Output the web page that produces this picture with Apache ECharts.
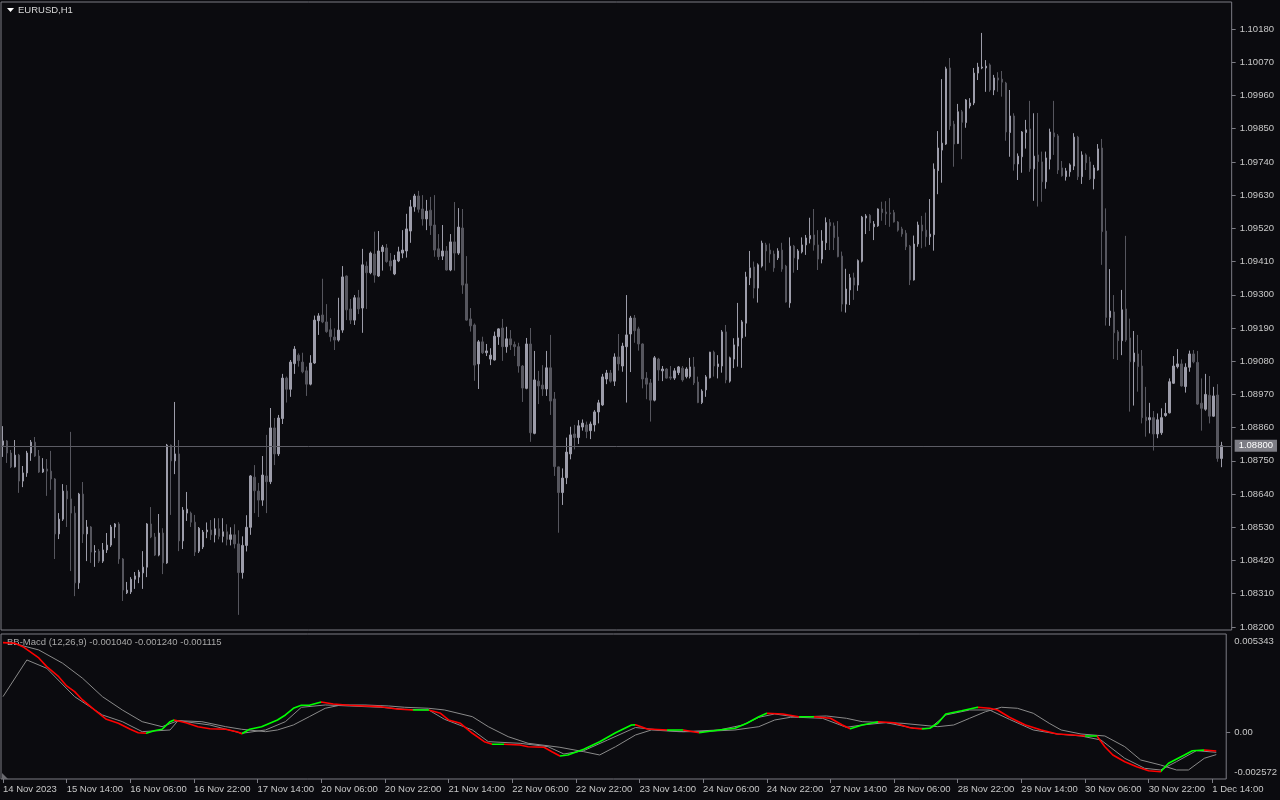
<!DOCTYPE html>
<html><head><meta charset="utf-8">
<script src="https://cdn.jsdelivr.net/npm/echarts@6/dist/echarts.min.js"></script>
<style>html,body{margin:0;padding:0;background:#0b0b0f;}#c{width:1280px;height:800px;}</style>
</head><body><div id="c"></div>
<script>
// ---------- DATA ----------
const symbolTitle = 'EURUSD,H1';
const indicatorTitle = 'BB-Macd (12,26,9) -0.001040 -0.001240 -0.001115';
const timeLabels = ['14 Nov 2023','15 Nov 14:00','16 Nov 06:00','16 Nov 22:00','17 Nov 14:00','20 Nov 06:00','20 Nov 22:00','21 Nov 14:00','22 Nov 06:00','22 Nov 22:00','23 Nov 14:00','24 Nov 06:00','24 Nov 22:00','27 Nov 14:00','28 Nov 06:00','28 Nov 22:00','29 Nov 14:00','30 Nov 06:00','30 Nov 22:00','1 Dec 14:00'];
const LABEL_STEP = 16;
const priceTicks = [1.10180,1.10070,1.09960,1.09850,1.09740,1.09630,1.09520,1.09410,1.09300,1.09190,1.09080,1.08970,1.08860,1.08750,1.08640,1.08530,1.08420,1.08310,1.08200];
const bidPrice = 1.08800;
const macdTicks = [0.005343, 0, -0.002572];

const opens = [
1.08802,1.08816,1.08776,1.08730,1.08769,1.08683,1.08710,1.08776,1.08812,1.08766,
1.08713,1.08723,1.08716,1.08690,1.08508,1.08557,1.08650,1.08624,1.08577,1.08346,
1.08640,1.08508,1.08531,1.08448,1.08451,1.08418,1.08455,1.08471,1.08531,1.08541,
1.08425,1.08313,1.08316,1.08358,1.08365,1.08379,1.08398,1.08541,1.08498,1.08438,
1.08511,1.08412,1.08802,1.08750,1.08773,1.08485,1.08577,1.08577,1.08547,1.08451,
1.08465,1.08515,1.08521,1.08505,1.08525,1.08500,1.08515,1.08490,1.08505,1.08475,
1.08380,1.08470,1.08530,1.08696,1.08650,1.08620,1.08700,1.08681,1.08859,1.08773,
1.08890,1.09024,1.08987,1.09072,1.09100,1.09077,1.09048,1.09004,1.09074,1.09214,
1.09233,1.09210,1.09184,1.09160,1.09150,1.09183,1.09362,1.09253,1.09216,1.09290,
1.09256,1.09395,1.09373,1.09435,1.09362,1.09443,1.09455,1.09412,1.09369,1.09412,
1.09438,1.09445,1.09511,1.09591,1.09627,1.09584,1.09551,1.09580,1.09531,1.09452,
1.09428,1.09445,1.09382,1.09475,1.09438,1.09521,1.09336,1.09220,1.09200,1.09071,
1.09144,1.09108,1.09087,1.09084,1.09161,1.09190,1.09128,1.09154,1.09135,1.09128,
1.09064,1.08990,1.09137,1.08841,1.09014,1.09001,1.08988,1.09058,1.08955,1.08730,
1.08645,1.08694,1.08773,1.08839,1.08827,1.08862,1.08869,1.08850,1.08869,1.08912,
1.08935,1.09021,1.09041,1.09014,1.09094,1.09064,1.09128,1.09170,1.09223,1.09187,
1.09137,1.09024,1.09008,1.08951,1.09087,1.09048,1.09054,1.09028,1.09024,1.09042,
1.09057,1.09029,1.09029,1.09061,1.09011,1.08943,1.08985,1.09025,1.09110,1.09062,
1.09064,1.09177,1.09014,1.09087,1.09130,1.09157,1.09206,1.09356,1.09392,1.09322,
1.09395,1.09465,1.09448,1.09435,1.09422,1.09448,1.09395,1.09273,1.09461,1.09418,
1.09442,1.09465,1.09485,1.09498,1.09465,1.09418,1.09472,1.09539,1.09528,1.09491,
1.09428,1.09269,1.09316,1.09356,1.09332,1.09411,1.09554,1.09563,1.09525,1.09528,
1.09584,1.09574,1.09571,1.09572,1.09541,1.09518,1.09504,1.09461,1.09349,1.09468,
1.09531,1.09514,1.09492,1.09499,1.09711,1.09779,1.09799,1.10051,1.09865,1.09801,
1.09906,1.09870,1.09925,1.09935,1.10034,1.10051,1.10051,1.10061,1.09978,1.10018,
1.10014,1.10001,1.09837,1.09892,1.09733,1.09757,1.09837,1.09849,1.09717,1.09763,
1.09740,1.09674,1.09749,1.09836,1.09826,1.09720,1.09691,1.09707,1.09726,1.09822,
1.09691,1.09763,1.09740,1.09684,1.09713,1.09786,1.09511,1.09225,1.09243,1.09177,
1.09148,1.09253,1.09157,1.09078,1.09104,1.09064,1.08895,1.08886,1.08893,1.08839,
1.08843,1.08900,1.08909,1.09007,1.09062,1.09071,1.08996,1.09060,1.09104,1.09076,
1.08941,1.08921,1.08967,1.08898,1.08968,1.08758];
const highs = [
1.08865,1.08819,1.08786,1.08819,1.08773,1.08733,1.08783,1.08819,1.08829,1.08786,
1.08759,1.08756,1.08783,1.08693,1.08577,1.08673,1.08670,1.08846,1.08600,1.08644,
1.08680,1.08554,1.08534,1.08471,1.08458,1.08478,1.08511,1.08538,1.08544,1.08547,
1.08428,1.08349,1.08365,1.08382,1.08389,1.08451,1.08544,1.08597,1.08511,1.08574,
1.08527,1.08806,1.08804,1.08945,1.08819,1.08597,1.08647,1.08582,1.08571,1.08531,
1.08521,1.08546,1.08554,1.08560,1.08560,1.08560,1.08540,1.08530,1.08540,1.08520,
1.08500,1.08570,1.08703,1.08736,1.08677,1.08766,1.08836,1.08925,1.08892,1.08902,
1.09038,1.09029,1.09084,1.09130,1.09106,1.09108,1.09062,1.09100,1.09231,1.09239,
1.09353,1.09269,1.09223,1.09189,1.09290,1.09395,1.09364,1.09286,1.09299,1.09316,
1.09452,1.09410,1.09443,1.09509,1.09511,1.09465,1.09468,1.09438,1.09432,1.09459,
1.09514,1.09568,1.09614,1.09634,1.09644,1.09630,1.09614,1.09624,1.09630,1.09501,
1.09531,1.09461,1.09501,1.09607,1.09587,1.09584,1.09428,1.09256,1.09205,1.09150,
1.09161,1.09137,1.09123,1.09178,1.09189,1.09220,1.09194,1.09183,1.09145,1.09141,
1.09067,1.09157,1.09190,1.09114,1.09048,1.09067,1.09114,1.09167,1.08978,1.08731,
1.08725,1.08827,1.08863,1.08869,1.08885,1.08887,1.08880,1.08880,1.08918,1.08952,
1.09038,1.09051,1.09051,1.09106,1.09170,1.09141,1.09299,1.09230,1.09233,1.09194,
1.09139,1.09044,1.09021,1.09097,1.09091,1.09064,1.09057,1.09064,1.09057,1.09064,
1.09064,1.09060,1.09091,1.09094,1.09029,1.08987,1.09034,1.09111,1.09115,1.09100,
1.09183,1.09200,1.09095,1.09156,1.09273,1.09216,1.09376,1.09445,1.09410,1.09404,
1.09479,1.09472,1.09470,1.09446,1.09454,1.09472,1.09399,1.09490,1.09465,1.09451,
1.09490,1.09498,1.09555,1.09584,1.09514,1.09514,1.09556,1.09551,1.09539,1.09544,
1.09443,1.09386,1.09369,1.09373,1.09417,1.09561,1.09567,1.09567,1.09544,1.09586,
1.09608,1.09610,1.09620,1.09581,1.09544,1.09525,1.09514,1.09465,1.09496,1.09542,
1.09561,1.09572,1.09617,1.09735,1.09842,1.10014,1.10055,1.10084,1.09876,1.09932,
1.09912,1.09948,1.09951,1.10051,1.10068,1.10167,1.10077,1.10066,1.10028,1.10037,
1.10041,1.10005,1.09978,1.09901,1.09768,1.09842,1.09879,1.09942,1.09901,1.09902,
1.09774,1.09774,1.09850,1.09942,1.09832,1.09743,1.09720,1.09735,1.09835,1.09826,
1.09775,1.09768,1.09757,1.09730,1.09799,1.09816,1.09586,1.09385,1.09299,1.09183,
1.09316,1.09495,1.09221,1.09180,1.09167,1.09117,1.08995,1.08942,1.08915,1.08907,
1.08924,1.08942,1.09023,1.09097,1.09120,1.09086,1.09073,1.09115,1.09117,1.09114,
1.09023,1.09038,1.09031,1.08995,1.09004,1.08813];
const lows = [
1.08763,1.08743,1.08726,1.08728,1.08644,1.08663,1.08697,1.08750,1.08763,1.08710,
1.08710,1.08634,1.08654,1.08425,1.08491,1.08551,1.08531,1.08385,1.08302,1.08326,
1.08478,1.08418,1.08412,1.08399,1.08412,1.08412,1.08445,1.08465,1.08494,1.08409,
1.08286,1.08309,1.08309,1.08326,1.08345,1.08326,1.08365,1.08494,1.08435,1.08434,
1.08375,1.08409,1.08571,1.08706,1.08451,1.08458,1.08551,1.08531,1.08435,1.08445,
1.08458,1.08494,1.08488,1.08480,1.08490,1.08480,1.08470,1.08470,1.08460,1.08240,
1.08360,1.08450,1.08505,1.08577,1.08564,1.08601,1.08577,1.08673,1.08736,1.08766,
1.08872,1.08943,1.08962,1.09038,1.09062,1.09040,1.08965,1.09000,1.09071,1.09167,
1.09206,1.09174,1.09145,1.09117,1.09145,1.09174,1.09216,1.09203,1.09200,1.09236,
1.09174,1.09253,1.09368,1.09340,1.09359,1.09380,1.09406,1.09380,1.09365,1.09408,
1.09421,1.09423,1.09472,1.09575,1.09572,1.09529,1.09514,1.09498,1.09426,1.09415,
1.09415,1.09380,1.09378,1.09380,1.09432,1.09303,1.09214,1.09178,1.09015,1.08988,
1.09104,1.09097,1.09067,1.09082,1.09134,1.09081,1.09108,1.09117,1.09097,1.09042,
1.08945,1.08987,1.08813,1.08838,1.08938,1.08965,1.08965,1.08902,1.08700,1.08512,
1.08604,1.08673,1.08755,1.08788,1.08806,1.08850,1.08825,1.08822,1.08847,1.08874,
1.08932,1.09004,1.09009,1.08998,1.09049,1.09045,1.08943,1.09044,1.09141,1.09115,
1.08990,1.08954,1.08880,1.08947,1.09015,1.09014,1.09022,1.09018,1.09018,1.09034,
1.09012,1.09023,1.09023,1.09001,1.08941,1.08938,1.08962,1.09023,1.09029,1.09023,
1.09042,1.09007,1.09009,1.09057,1.09062,1.09058,1.09161,1.09332,1.09288,1.09274,
1.09390,1.09380,1.09406,1.09376,1.09415,1.09376,1.09274,1.09257,1.09373,1.09382,
1.09437,1.09432,1.09470,1.09446,1.09382,1.09404,1.09448,1.09448,1.09448,1.09424,
1.09244,1.09241,1.09266,1.09283,1.09313,1.09407,1.09501,1.09511,1.09481,1.09525,
1.09545,1.09531,1.09525,1.09539,1.09509,1.09492,1.09448,1.09332,1.09347,1.09459,
1.09454,1.09459,1.09465,1.09446,1.09633,1.09671,1.09796,1.09846,1.09724,1.09799,
1.09749,1.09853,1.09917,1.09928,1.10011,1.10047,1.09972,1.09972,1.09961,1.09972,
1.09956,1.09810,1.09757,1.09711,1.09680,1.09704,1.09784,1.09707,1.09611,1.09592,
1.09608,1.09651,1.09715,1.09763,1.09700,1.09691,1.09678,1.09691,1.09713,1.09680,
1.09667,1.09713,1.09680,1.09649,1.09711,1.09399,1.09198,1.09197,1.09087,1.09084,
1.09100,1.09144,1.08913,1.08933,1.08979,1.08874,1.08830,1.08841,1.08784,1.08825,
1.08836,1.08896,1.08907,1.09005,1.09056,1.08996,1.08976,1.09045,1.09073,1.08935,
1.08850,1.08916,1.08874,1.08896,1.08747,1.08729];
const closes = [
1.08816,1.08776,1.08730,1.08769,1.08683,1.08710,1.08776,1.08812,1.08766,1.08713,
1.08723,1.08716,1.08690,1.08508,1.08557,1.08650,1.08624,1.08577,1.08346,1.08640,
1.08508,1.08531,1.08448,1.08451,1.08418,1.08455,1.08471,1.08531,1.08541,1.08425,
1.08322,1.08322,1.08358,1.08369,1.08382,1.08398,1.08541,1.08498,1.08438,1.08511,
1.08412,1.08802,1.08750,1.08773,1.08485,1.08587,1.08590,1.08547,1.08448,1.08527,
1.08514,1.08521,1.08505,1.08525,1.08500,1.08515,1.08490,1.08505,1.08475,1.08380,
1.08470,1.08530,1.08700,1.08651,1.08620,1.08703,1.08681,1.08859,1.08773,1.08892,
1.09024,1.08987,1.09077,1.09120,1.09082,1.09045,1.09004,1.09074,1.09216,1.09230,
1.09210,1.09178,1.09161,1.09150,1.09183,1.09359,1.09250,1.09216,1.09290,1.09253,
1.09399,1.09373,1.09438,1.09365,1.09445,1.09458,1.09410,1.09395,1.09415,1.09442,
1.09448,1.09518,1.09591,1.09627,1.09583,1.09551,1.09577,1.09529,1.09448,1.09426,
1.09445,1.09382,1.09475,1.09438,1.09524,1.09332,1.09216,1.09197,1.09067,1.09144,
1.09108,1.09114,1.09100,1.09163,1.09187,1.09128,1.09154,1.09134,1.09128,1.09064,
1.08991,1.09137,1.08843,1.09018,1.08998,1.08988,1.09058,1.08948,1.08731,1.08645,
1.08693,1.08779,1.08836,1.08827,1.08866,1.08875,1.08847,1.08872,1.08912,1.08942,
1.09028,1.09041,1.09014,1.09094,1.09071,1.09130,1.09167,1.09223,1.09181,1.09137,
1.09021,1.09004,1.08951,1.09091,1.09051,1.09054,1.09024,1.09024,1.09048,1.09061,
1.09018,1.09054,1.09061,1.09008,1.08943,1.08981,1.09028,1.09110,1.09064,1.09071,
1.09177,1.09018,1.09091,1.09134,1.09157,1.09210,1.09359,1.09389,1.09322,1.09399,
1.09471,1.09445,1.09435,1.09389,1.09445,1.09385,1.09276,1.09461,1.09422,1.09445,
1.09465,1.09488,1.09496,1.09465,1.09418,1.09478,1.09539,1.09528,1.09489,1.09426,
1.09269,1.09319,1.09356,1.09332,1.09413,1.09557,1.09561,1.09538,1.09534,1.09584,
1.09572,1.09568,1.09568,1.09541,1.09514,1.09501,1.09459,1.09349,1.09468,1.09531,
1.09511,1.09492,1.09501,1.09716,1.09786,1.09802,1.10048,1.09859,1.09799,1.09906,
1.09871,1.09945,1.09935,1.10034,1.10054,1.10054,1.10057,1.09978,1.10018,1.10011,
1.10004,1.09839,1.09892,1.09733,1.09759,1.09839,1.09846,1.09717,1.09759,1.09741,
1.09674,1.09753,1.09839,1.09823,1.09713,1.09694,1.09710,1.09730,1.09822,1.09691,
1.09763,1.09737,1.09684,1.09720,1.09783,1.09509,1.09225,1.09246,1.09174,1.09148,
1.09250,1.09150,1.09078,1.09107,1.09062,1.08893,1.08883,1.08893,1.08839,1.08886,
1.08893,1.08907,1.09012,1.09064,1.09071,1.08998,1.09060,1.09104,1.09078,1.08938,
1.08924,1.08970,1.08898,1.08965,1.08758,1.08800];

// BB-Macd main line (read at sampled bars)
const macdIdx = [0,3,5,9,11,14,16,18,20,23,26,29,32,34,36,38,40,42,43,46,49,52,56,59,60,62,65,69,71,73,75,77,80,83,87,91,95,99,103,107,110,112,115,118,121,123,126,130,132,136,138,140,142,146,150,154,158,159,162,167,171,175,180,184,187,190,192,196,200,204,208,211,213,216,220,224,228,231,233,235,237,241,245,248,250,253,257,261,265,269,272,275,277,279,282,285,288,291,293,297,299,302,305];
const macdVal = [0.004870,0.004838,0.004652,0.004035,0.003560,0.003014,0.002506,0.002195,0.001742,0.001196,
0.000688,0.000470,0.000142,-0.000044,-0.000076,0.000066,0.000142,0.000557,0.000650,0.000502,
0.000284,0.000175,0.000142,-0.000005,-0.000098,0.000142,0.000284,0.000650,0.000923,0.001289,
0.001452,0.001452,0.001633,0.001523,0.001452,0.001414,0.001376,0.001250,0.001196,0.001196,
0.001016,0.000650,0.000470,-0.000076,-0.000535,-0.000677,-0.000677,-0.000715,-0.000808,-0.000841,
-0.001081,-0.001316,-0.001261,-0.000950,-0.000535,-0.000044,0.000377,0.000393,0.000158,0.000104,
0.000104,-0.000044,0.000104,0.000197,0.000470,0.000830,0.001016,0.000977,0.000830,0.000830,
0.000743,0.000377,0.000175,0.000377,0.000557,0.000502,0.000229,0.000158,0.000197,0.000470,
0.000977,0.001158,0.001343,0.001289,0.001196,0.000797,0.000377,0.000104,-0.000115,-0.000169,
-0.000224,-0.000224,-0.000808,-0.001261,-0.001627,-0.001900,-0.002118,-0.002173,-0.001714,-0.001261,
-0.001026,-0.000988,-0.001040];
// lagging gray line
const sigIdx = [2,9,15,20,25,30,35,40,44,50,56,60,66,69,73,77,81,85,91,97,101,107,111,118,122,127,132,140,146,150,154,159,163,170,175,184,190,194,198,207,212,216,226,235,239,243,247,251,255,259,263,266,271,277,282,286,291,295,298,302,305];
const sigVal = [0.004870,0.004472,0.003746,0.002927,0.001922,0.001196,0.000557,0.000284,0.000612,0.000557,
0.000284,0.000142,0.000011,0.000104,0.000377,0.000830,0.001289,0.001469,0.001469,0.001414,
0.001343,0.001289,0.001196,0.000830,0.000284,-0.000262,-0.000622,-0.000841,-0.001081,-0.001261,
-0.000808,-0.000169,0.000104,0.000011,0.000011,0.000104,0.000284,0.000650,0.000797,0.000868,
0.000743,0.000557,0.000470,0.000284,0.000377,0.000743,0.001103,0.001343,0.001289,0.001016,
0.000470,0.000104,-0.000115,-0.000224,-0.000808,-0.001534,-0.001807,-0.002080,-0.002080,-0.001441,
-0.001240];
// close gray line
const bandIdx = [0,6,11,18,25,30,35,42,44,52,60,66,71,75,81,87,95,101,107,111,118,122,130,137,141,146,152,159,165,171,180,186,190,194,200,206,212,216,222,229,233,237,243,248,253,259,265,271,276,282,287,291,295,300,305];
const bandVal = [0.001924,0.003926,0.003471,0.001924,0.000923,0.000559,0.000013,0.000104,0.000613,0.000377,
-0.000078,0.000104,0.000559,0.001341,0.001469,0.001414,0.001341,0.001232,0.001196,0.000686,
0.000104,-0.000533,-0.000624,-0.000806,-0.001207,-0.001025,-0.000442,0.000240,0.000104,0.000013,
0.000104,0.000377,0.000795,0.000977,0.000795,0.000741,0.000249,0.000377,0.000504,0.000195,
0.000195,0.000923,0.001196,0.001196,0.000686,0.000104,-0.000115,-0.000224,-0.000442,-0.001443,
-0.001989,-0.002080,-0.001625,-0.001025,-0.001115];

// ---------- CHART ----------
const SLOTS = 308;
const slots = Array.from({length: SLOTS}, (_, i) => i);
const FONT = 'Liberation Sans';
const TXT = '#c8c8c8';
const FRAME = '#7c7c84';
const candles = opens.map((o, i) => [o, closes[i], lows[i], highs[i]]);
const pts = (idx, val) => idx.map((x, k) => [x, val[k]]);
const pieces = [];
for (let k = 0; k < macdIdx.length - 1; k++) {
  pieces.push({gte: macdIdx[k], lt: macdIdx[k + 1] + (k === macdIdx.length - 2 ? 1 : 0),
    color: macdVal[k + 1] >= macdVal[k] ? '#00ff00' : '#ff0000'});
}
const showLabel = (idx) => idx % LABEL_STEP === 0 && idx / LABEL_STEP < timeLabels.length;

const chart = echarts.init(document.getElementById('c'), null, {renderer: 'canvas'});
chart.setOption({
  animation: false,
  backgroundColor: '#0b0b0f',
  textStyle: {fontFamily: FONT},
  grid: [
    {left: 1, top: 2, width: 1232, height: 628, show: true, borderColor: FRAME, borderWidth: 1, backgroundColor: 'transparent'},
    {left: 1, top: 634, width: 1232, height: 145, show: true, borderColor: FRAME, borderWidth: 1, backgroundColor: 'transparent'}
  ],
  xAxis: [
    {type: 'category', gridIndex: 0, data: slots, boundaryGap: true, axisLine: {show: false, onZero: false}, axisTick: {show: false}, axisLabel: {show: false}, splitLine: {show: false}},
    {type: 'category', gridIndex: 1, data: slots, boundaryGap: true, position: 'bottom', axisLine: {show: false, onZero: false},
      axisTick: {show: true, alignWithLabel: true, interval: showLabel, length: 4, lineStyle: {color: FRAME}},
      axisLabel: {show: true, interval: showLabel, align: 'left', margin: 5, color: TXT, fontSize: 9.5, fontFamily: FONT,
        formatter: (v, idx) => timeLabels[idx / LABEL_STEP] || ''},
      splitLine: {show: false}}
  ],
  yAxis: [
    {type: 'value', gridIndex: 0, position: 'right', min: 1.081899, max: 1.102694, scale: true,
      axisLine: {show: false}, splitLine: {show: false},
      axisTick: {show: true, length: 4, customValues: priceTicks, lineStyle: {color: FRAME}},
      axisLabel: {show: true, customValues: priceTicks, margin: 8, color: TXT, fontSize: 9.5, fontFamily: FONT, formatter: v => v.toFixed(5)}},
    {type: 'value', gridIndex: 0, position: 'right', min: 1.081899, max: 1.102694, scale: true,
      axisLine: {show: false}, splitLine: {show: false}, axisTick: {show: false},
      axisLabel: {show: true, customValues: [bidPrice], margin: 3, color: '#ffffff', backgroundColor: '#7d7d85', padding: [1, 4, 1, 4],
        fontSize: 9.5, fontFamily: FONT, formatter: v => v.toFixed(5)}},
    {type: 'value', gridIndex: 1, position: 'right', min: -0.002572, max: 0.005343,
      axisLine: {show: false}, splitLine: {show: false},
      axisTick: {show: true, length: 4, customValues: [0], lineStyle: {color: FRAME}},
      axisLabel: {show: true, customValues: macdTicks, margin: 8, color: TXT, fontSize: 9.5, fontFamily: FONT,
        formatter: v => v === 0 ? '{z|0.00}' : (v > 0 ? '{t|' + v.toFixed(6) + '}' : '{b|' + v.toFixed(6) + '}'),
        rich: {t: {padding: [14, 0, 0, 0], color: TXT, fontSize: 9.5}, b: {padding: [0, 0, 13, 0], color: TXT, fontSize: 9.5}, z: {color: TXT, fontSize: 9.5}}}}
  ],
  visualMap: [{type: 'piecewise', show: false, seriesIndex: 3, dimension: 0, pieces: pieces, outOfRange: {color: '#ff0000'}}],
  series: [
    {type: 'candlestick', xAxisIndex: 0, yAxisIndex: 0, data: candles, barWidth: 2,
      itemStyle: {color: '#9d9daa', color0: '#56565e', borderColor: '#9d9daa', borderColor0: '#56565e', borderWidth: 1},
      markLine: {symbol: 'none', silent: true, animation: false, precision: 5, label: {show: false},
        lineStyle: {color: '#5c5c64', width: 1, type: 'solid'}, data: [{yAxis: bidPrice}]}},
    {type: 'line', xAxisIndex: 1, yAxisIndex: 2, data: pts(sigIdx, sigVal), showSymbol: false,
      lineStyle: {color: '#8a8a8a', width: 1}, z: 2},
    {type: 'line', xAxisIndex: 1, yAxisIndex: 2, data: pts(bandIdx, bandVal), showSymbol: false,
      lineStyle: {color: '#8a8a8a', width: 1}, z: 2},
    {type: 'line', xAxisIndex: 1, yAxisIndex: 2, data: pts(macdIdx, macdVal), showSymbol: false,
      lineStyle: {width: 1.6}, z: 3}
  ],
  graphic: [
    {type: 'polygon', left: 7, top: 8, shape: {points: [[0, 0], [7, 0], [3.5, 4]]}, style: {fill: '#ffffff'}},
    {type: 'text', left: 18, top: 5, style: {text: symbolTitle, fill: '#d8d8d8', font: '9.5px "Liberation Sans"'}},
    {type: 'text', left: 7, top: 637, style: {text: indicatorTitle, fill: '#a8a8a8', font: '9.5px "Liberation Sans"'}},
    {type: 'polygon', shape: {points: [[2, 779], [2, 773], [8, 779]]}, style: {fill: '#6a6a70'}}
  ]
});
</script></body></html>
